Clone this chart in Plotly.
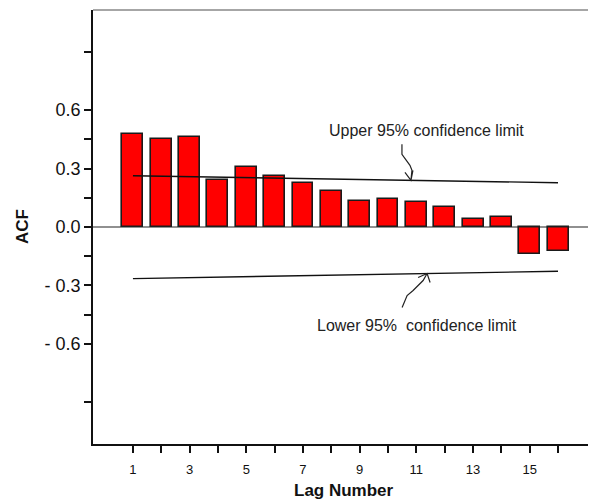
import plotly.graph_objects as go

lags = list(range(1, 17))
acf = [0.477, 0.451, 0.460, 0.239, 0.309, 0.263, 0.224, 0.186,
       0.135, 0.142, 0.130, 0.101, 0.043, 0.050, -0.138, -0.121]
limit_lags = [1, 16]
upper_limit = [0.263, 0.227]
lower_limit = [-0.265, -0.227]

y_tickvals = [-0.9, -0.6, -0.45, -0.3, -0.15, 0.0, 0.15, 0.3, 0.45, 0.6, 0.9]
y_ticktext = ["", "- 0.6", "", "- 0.3", "", "0.0", "", "0.3", "", "0.6", ""]
x_tickvals = lags
x_ticktext = [str(l) if l % 2 == 1 else "" for l in lags]

FONT = "Liberation Sans, Arial, sans-serif"

fig = go.Figure()
fig.add_trace(go.Bar(
    x=lags, y=acf, width=0.74,
    marker=dict(color="#ff0000", line=dict(color="#1a1a1a", width=1.6)),
    hoverinfo="x+y", showlegend=False,
))
fig.add_trace(go.Scatter(x=limit_lags, y=upper_limit, mode="lines",
                         line=dict(color="#111111", width=1.4), showlegend=False))
fig.add_trace(go.Scatter(x=limit_lags, y=lower_limit, mode="lines",
                         line=dict(color="#111111", width=1.4), showlegend=False))

shapes = [
    # zero line
    dict(type="line", xref="paper", yref="y", x0=0, x1=1, y0=0, y1=0,
         line=dict(color="#222222", width=1.2), layer="above"),
    # top border
    dict(type="line", xref="paper", yref="paper", x0=0, x1=1, y0=1, y1=1,
         line=dict(color="#888888", width=1.5)),
    # upper curvy arrow (pixel offsets from tip)
    dict(type="path", xref="x", yref="y", xsizemode="pixel", ysizemode="pixel",
         xanchor=10.81, yanchor=upper_limit[0] + (upper_limit[1] - upper_limit[0]) * (10.81 - 1) / 15,
         path="M -9 36 L -9 26 L -1 15 L 1 10 L 0 0 M -6 8 L 0 0 L 2 10",
         line=dict(color="#222222", width=1.2)),
    # lower curvy arrow
    dict(type="path", xref="x", yref="y", xsizemode="pixel", ysizemode="pixel",
         xanchor=11.38, yanchor=lower_limit[0] + (lower_limit[1] - lower_limit[0]) * (11.38 - 1) / 15,
         path="M -25 -34 L -20 -22 L -14 -17 L -9 -12 L -4 -7 L 0 0 M -9 -4 L 0 0 L 3 -9",
         line=dict(color="#222222", width=1.2)),
]

annotations = [
    dict(text="Upper 95% confidence limit", x=11.36, y=0.497, xref="x", yref="y",
         xanchor="center", showarrow=False, font=dict(family=FONT, size=16, color="#222222")),
    dict(text="Lower 95%  confidence limit", x=11.04, y=-0.503, xref="x", yref="y",
         xanchor="center", showarrow=False, font=dict(family=FONT, size=16, color="#222222")),
    dict(text="<b>ACF</b>", x=-0.141, y=0.5, xref="paper", yref="paper", xanchor="center",
         yanchor="middle", textangle=-90, showarrow=False,
         font=dict(family=FONT, size=17, color="#111111")),
    dict(text="<b>Lag Number</b>", x=0.499, y=-0.106, xref="paper", yref="paper",
         xanchor="center", showarrow=False, yanchor="middle",
         font=dict(family=FONT, size=17, color="#111111")),
]

fig.update_layout(
    width=588, height=494,
    margin=dict(l=85, r=0, t=2, b=58),
    paper_bgcolor="white", plot_bgcolor="white",
    font=dict(family=FONT, color="#111111"),
    shapes=shapes, annotations=annotations,
    bargap=0,
    xaxis=dict(range=[-0.41, 17.34], tickvals=x_tickvals, ticktext=x_ticktext,
               ticks="outside", ticklen=7, tickwidth=1.5, tickcolor="#111111",
               showline=True, linecolor="#111111", linewidth=1.5,
               showgrid=False, zeroline=False, ticklabelstandoff=6,
               tickfont=dict(size=13, family=FONT)),
    yaxis=dict(range=[-1.113, 1.113], tickvals=y_tickvals, ticktext=y_ticktext,
               ticks="outside", ticklen=7, tickwidth=1.5, tickcolor="#111111",
               showline=True, linecolor="#111111", linewidth=1.5,
               showgrid=False, zeroline=False,
               tickfont=dict(size=18, family=FONT)),
)

fig.write_html("out.html")
